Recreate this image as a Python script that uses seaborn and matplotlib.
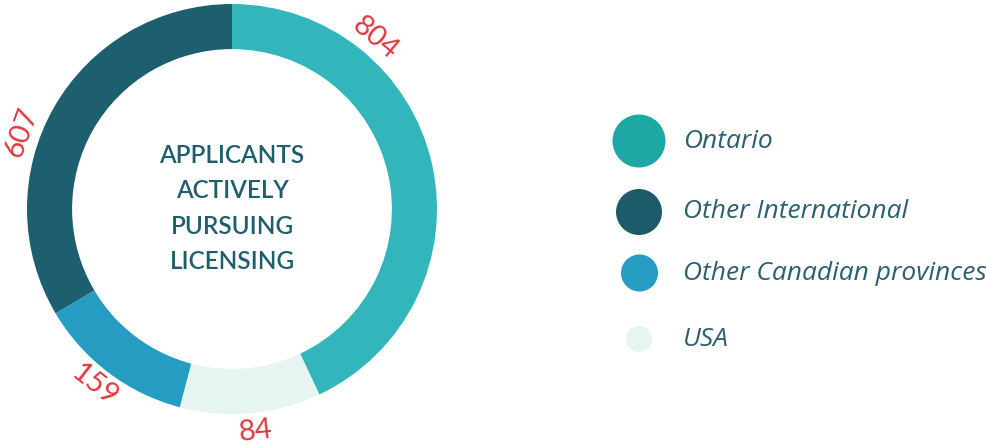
import matplotlib
matplotlib.use("Agg")
import matplotlib.pyplot as plt
import seaborn as sns
import numpy as np
from matplotlib.patches import Circle

# ---- data ----
categories = ["Ontario", "USA", "Other Canadian provinces", "Other International"]
values = [804, 84, 159, 607]
# visible arc shares as drawn in the reference (%)
arc_share = [43.0, 11.1, 12.4, 33.5]
ring_colors = ["#33B6BB", "#E6F4F2", "#279CC3", "#1E5F6F"]

legend_labels = ["Ontario", "Other International", "Other Canadian provinces", "USA"]
legend_colors = ["#1DA8A5", "#1E5B6A", "#279CC3", "#E6F4F2"]

center_lines = ["APPLICANTS", "ACTIVELY", "PURSUING", "LICENSING"]

# ---- layout / style ----
W, H = 987, 445
label_angles = [40, 174, 218, 290]   # clockwise from top, degrees
label_radius = 1.09
legend_pos = [(639, 141, 26.5), (639, 212, 23), (639.5, 273, 18.5), (639, 339, 13)]
legend_text_x = 683

sns.set_theme(style="white")
plt.rcParams["font.family"] = ["Lato", "DejaVu Sans"]

fig = plt.figure(figsize=(W / 100, H / 100), dpi=100)
fig.patch.set_facecolor("white")

# full-figure pixel axes for legend
bg = fig.add_axes([0, 0, 1, 1])
bg.set_xlim(0, W)
bg.set_ylim(H, 0)
bg.axis("off")

cx, cy, R = 232, 209, 205
ax = fig.add_axes([(cx - R) / W, (H - cy - R) / H, 2 * R / W, 2 * R / H])
ax.pie(arc_share, colors=ring_colors, startangle=90, counterclock=False,
       radius=1.0, wedgeprops=dict(width=0.22, edgecolor="none", linewidth=0))
ax.set_xlim(-1, 1)
ax.set_ylim(-1, 1)
ax.set_aspect("equal")
ax.axis("off")

for v, a in zip(values, label_angles):
    th = np.deg2rad(90 - a)
    x, y = label_radius * np.cos(th), label_radius * np.sin(th)
    rot = -a
    if 90 < a < 270:
        rot += 180
    ax.text(x, y, str(v), rotation=rot, rotation_mode="anchor", ha="center", va="center",
            fontsize=21, color="#E0393E", fontweight="normal", clip_on=False)

for i, line in enumerate(center_lines):
    ax.text(0, 0.26 - i * 0.172, line, ha="center", va="center", fontsize=17.5,
            color="#1E5F6E", fontweight="semibold")

for (x, y, r), c, lab in zip(legend_pos, legend_colors, legend_labels):
    bg.add_patch(Circle((x, y), r, facecolor=c, edgecolor="none"))
    bg.text(legend_text_x, y, lab, ha="left", va="center", fontsize=19,
            style="italic", color="#2C5F70", family=["Open Sans", "DejaVu Sans"])

fig.savefig("out.png", dpi=100, facecolor="white")
